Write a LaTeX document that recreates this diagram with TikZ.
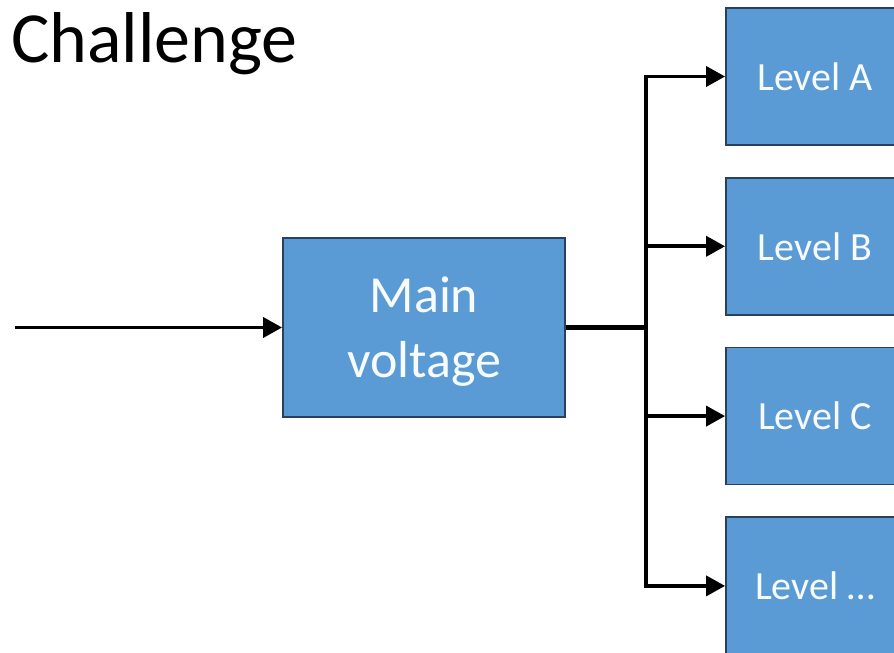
\documentclass[tikz,border=0pt]{standalone}
\usepackage{fontspec}
\setmainfont{Carlito}
\usetikzlibrary{arrows.meta,positioning}
\definecolor{boxblue}{RGB}{91,155,213}
\definecolor{boxedge}{RGB}{40,64,92}
\tikzset{
  block/.style={draw=boxedge, line width=1.8pt, fill=boxblue, text=white!96!boxblue,
    align=center, inner sep=0pt},
  levelbox/.style={block, minimum width=178pt, minimum height=137pt, font=\fontsize{40}{48}\selectfont},
  wire/.style={line width=3.6pt, line join=miter},
  feed/.style={wire, -{Triangle[length=19pt,width=20pt]}}
}
\begin{document}
\begin{tikzpicture}[x=1pt, y=1pt]
  \useasboundingbox (0,0) rectangle (894,653);
  \clip (0,0) rectangle (894,653);
  \node[anchor=base west, inner sep=0pt, font=\fontsize{72}{80}\selectfont] (title) at (11,590) {Challenge};
  \node[block, minimum width=282pt, minimum height=179pt, text depth=0pt,
    font=\fontsize{52}{65}\selectfont] (main) at (424,325.5) {Main\\voltage};
  % levels on the right
  \node[levelbox] (lvlA) at (815,576.5) {Level A};
  \node[levelbox, below=31pt of lvlA] (lvlB) {Level B};
  \node[levelbox, below=31pt of lvlB] (lvlC) {Level C};
  \node[levelbox, below=31pt of lvlC] (lvlD) {Level \dots};
  \coordinate (in) at (15,325.5);
  \coordinate (bus) at (646,325.5);
  \draw[feed] (in) -- (main.west);
  \draw[wire, line width=5pt] (main.east) -- (bus);
  \draw[wire, line cap=rect] (bus |- lvlA) -- (bus |- lvlD);
  \foreach \lvl in {lvlA,lvlB,lvlC,lvlD}
    \draw[feed] (bus |- \lvl) -- (\lvl.west);
\end{tikzpicture}
\end{document}
